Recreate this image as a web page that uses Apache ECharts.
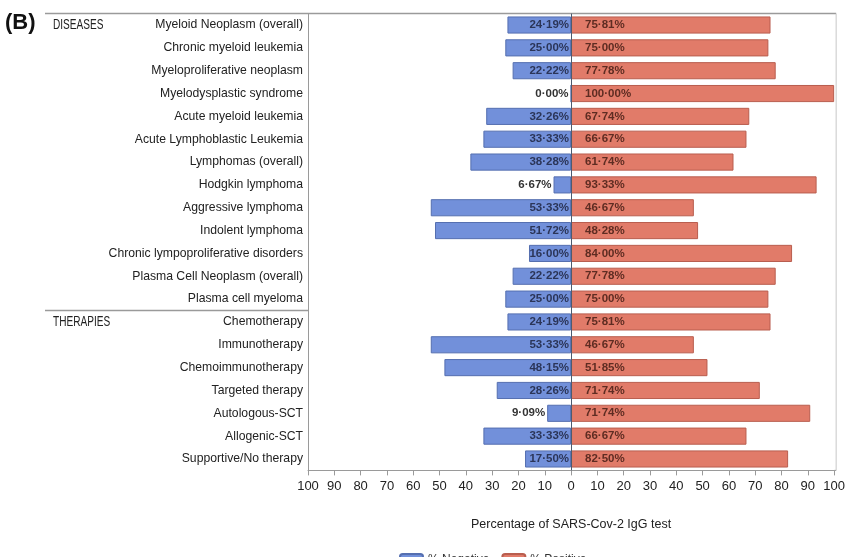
<!DOCTYPE html>
<html>
<head>
<meta charset="utf-8">
<script src="https://cdn.jsdelivr.net/npm/echarts@6/dist/echarts.min.js"></script>
<style>html,body{margin:0;padding:0;background:#fff;}#c{width:848px;height:557px;}</style>
</head>
<body>
<div id="c"></div>
<script>
const categories = [
  'Myeloid Neoplasm (overall)','Chronic myeloid leukemia','Myeloproliferative neoplasm','Myelodysplastic syndrome',
  'Acute myeloid leukemia','Acute Lymphoblastic Leukemia','Lymphomas (overall)','Hodgkin lymphoma',
  'Aggressive lymphoma','Indolent lymphoma','Chronic lympoproliferative disorders','Plasma Cell Neoplasm (overall)',
  'Plasma cell myeloma','Chemotherapy','Immunotherapy','Chemoimmunotherapy','Targeted therapy',
  'Autologous-SCT','Allogenic-SCT','Supportive/No therapy'
];
const negativeValues = [24.19,25.00,22.22,0.00,32.26,33.33,38.28,6.67,53.33,51.72,16.00,22.22,25.00,24.19,53.33,48.15,28.26,9.09,33.33,17.50];
const positiveValues = [75.81,75.00,77.78,100.00,67.74,66.67,61.74,93.33,46.67,48.28,84.00,77.78,75.00,75.81,46.67,51.85,71.74,90.91,66.67,82.50];
const negativeLabels = ['24·19%','25·00%','22·22%','0·00%','32·26%','33·33%','38·28%','6·67%','53·33%','51·72%','16·00%','22·22%','25·00%','24·19%','53·33%','48·15%','28·26%','9·09%','33·33%','17·50%'];
const positiveLabels = ['75·81%','75·00%','77·78%','100·00%','67·74%','66·67%','61·74%','93·33%','46·67%','48·28%','84·00%','77·78%','75·00%','75·81%','46·67%','51·85%','71·74%','71·74%','66·67%','82·50%'];
const xTicks = [-100,-90,-80,-70,-60,-50,-40,-30,-20,-10,0,10,20,30,40,50,60,70,80,90,100];
const sections = [{name:'DISEASES', row:0},{name:'THERAPIES', row:13}];

(function(){
const baseFont = "'Liberation Sans', Arial, sans-serif";
const chart = echarts.init(document.getElementById('c'), null, {renderer:'canvas'});

const negData = negativeValues.map((v,i)=>{
  const small = v < 12;
  return {
    value: -v,
    label: {
      position: small ? 'left' : 'insideRight',
      distance: 2,
      color: small ? '#333' : '#2b3558'
    }
  };
});

chart.setOption({
  animation:false,
  grid:{left:308, right:11, top:13.6, bottom:86.6},
  legend:{
    top:548, left:394, itemWidth:23, itemHeight:11, itemGap:12,
    textStyle:{fontFamily:baseFont, fontSize:12, color:'#333'},
    data:['% Negative','% Positive']
  },
  xAxis:{
    type:'value', min:-100, max:100, interval:10,
    axisLine:{show:true, lineStyle:{color:'#9a9a9a', width:1}},
    axisTick:{show:true, length:5, lineStyle:{color:'#9a9a9a'}},
    splitLine:{show:false},
    axisLabel:{formatter:v=>xTicks.includes(v)?String(Math.abs(v)):'', fontFamily:baseFont, fontSize:13, color:'#222', margin:10},
    name:'Percentage of SARS-Cov-2 IgG test', nameLocation:'middle', nameGap:48,
    nameTextStyle:{fontFamily:baseFont, fontSize:12.5, color:'#222'}
  },
  yAxis:{
    type:'category', inverse:true, data:categories,
    axisLine:{show:true, onZero:false, lineStyle:{color:'#9a9a9a'}},
    axisTick:{show:false},
    axisLabel:{fontFamily:baseFont, fontSize:12.2, color:'#222', margin:5}
  },
  series:[
    {
      name:'% Negative', type:'bar', stack:'a', barWidth:'75%', data:negData,
      itemStyle:{color:'#7290da', borderColor:'#556fb0', borderWidth:1},
      label:{show:true, formatter:p=>negativeLabels[p.dataIndex], fontFamily:baseFont, fontWeight:'bold', fontSize:11.5},
      markLine:{silent:true, symbol:'none', label:{show:false}, lineStyle:{color:'#4d5a70', width:1, type:'solid'}, data:[{xAxis:0}]}
    },
    {
      name:'% Positive', type:'bar', stack:'a', barWidth:'75%', data:positiveValues,
      itemStyle:{color:'#e17b69', borderColor:'#b95e4f', borderWidth:1},
      label:{show:true, position:'insideLeft', distance:14, formatter:p=>positiveLabels[p.dataIndex], color:'#5e2c22', fontFamily:baseFont, fontWeight:'bold', fontSize:11.5}
    }
  ]
});

const tl = chart.convertToPixel({gridIndex:0}, [-100, categories[0]]);
const br = chart.convertToPixel({gridIndex:0}, [100, categories[categories.length-1]]);
const step = (br[1]-tl[1])/(categories.length-1);
const frameTop = tl[1]-step/2, frameBottom = br[1]+step/2;
const leftX = tl[0], rightX = br[0]+2;
const gfx = [
  {type:'line', shape:{x1:45, y1:frameTop, x2:rightX, y2:frameTop}, style:{stroke:'#9a9a9a', lineWidth:1.5}},
  {type:'line', shape:{x1:rightX, y1:frameTop, x2:rightX, y2:frameBottom}, style:{stroke:'#c8c8c8', lineWidth:1}},
  {type:'line', shape:{x1:rightX-2, y1:frameBottom, x2:rightX, y2:frameBottom}, style:{stroke:'#9a9a9a', lineWidth:1}},
  {type:'text', x:5, y:frameTop+9, style:{text:'(B)', fontSize:22, fontWeight:'bold', fill:'#111', fontFamily:baseFont, verticalAlign:'middle'}}
];
sections.forEach(s=>{
  const yc = tl[1] + step*s.row;
  gfx.push({type:'text', x:53, y:yc, scaleX:0.72, style:{text:s.name, fontSize:14, fill:'#222', fontFamily:baseFont, verticalAlign:'middle'}});
  if (s.row>0) {
    const ys = yc - step/2;
    gfx.push({type:'line', shape:{x1:45, y1:ys, x2:leftX, y2:ys}, style:{stroke:'#9a9a9a', lineWidth:1.5}});
  }
});
chart.setOption({graphic:gfx});
})();
</script>
</body>
</html>
